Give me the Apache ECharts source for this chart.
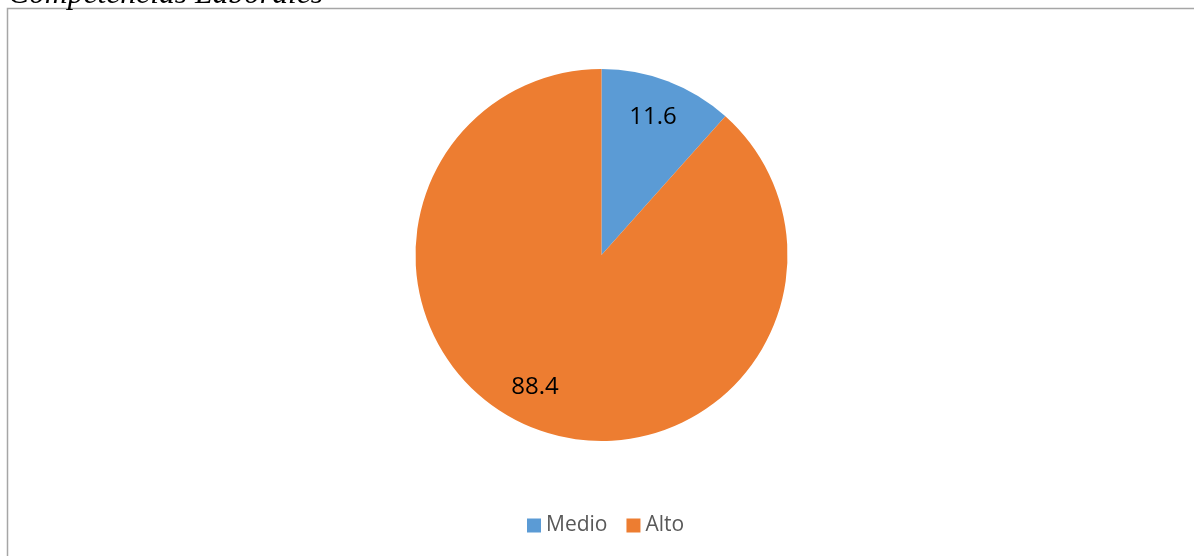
<!DOCTYPE html>
<html>
<head>
<meta charset="utf-8">
<script src="https://cdn.jsdelivr.net/npm/echarts@6/dist/echarts.min.js"></script>
<style>
html,body{margin:0;padding:0;background:#fff;}
#c{width:1194px;height:556px;}
</style>
</head>
<body>
<div id="c"></div>
<script>
const categories = ['Medio', 'Alto'];
const values = [11.6, 88.4];
const colors = ['#5B9BD5', '#ED7D31'];
const titleText = 'Competencias Laborales';

const chart = echarts.init(document.getElementById('c'));
const data = categories.map((n, i) => ({ name: n, value: values[i], itemStyle: { color: colors[i] } }));
const labelOffsets = [[-2, 2], [-13, -8]];
const R = 186;
chart.setOption({
  animation: false,
  graphic: [
    { type: 'rect', shape: { x: 7.5, y: 8.5, width: 1200, height: 560 }, style: { fill: 'none', stroke: '#a6a6a6', lineWidth: 1.5 }, z: 10 },
    { type: 'text', x: 8, y: 11, style: { text: titleText, font: 'italic 31.6px "Liberation Serif"', fill: '#000', verticalAlign: 'bottom', align: 'left' }, z: 11 }
  ],
  legend: {
    data: categories,
    left: 527, top: 515, padding: 0,
    itemWidth: 14, itemHeight: 14, itemGap: 19,
    icon: 'rect',
    textStyle: { fontFamily: 'Open Sans', fontSize: 21, color: '#595959' }
  },
  series: [
    {
      type: 'pie',
      center: [601.5, 255],
      radius: [0, R],
      startAngle: 90,
      clockwise: true,
      data: data,
      label: { show: false },
      labelLine: { show: false },
      itemStyle: { borderWidth: 0 },
      silent: true
    },
    {
      type: 'pie',
      center: [601.5, 255],
      radius: [R * 0.58, R],
      startAngle: 90,
      clockwise: true,
      data: data.map((d, i) => ({ name: d.name, value: d.value, label: { offset: labelOffsets[i] } })),
      itemStyle: { color: 'rgba(0,0,0,0)', borderWidth: 0 },
      label: { show: true, position: 'inside', formatter: p => p.value.toFixed(1), fontFamily: 'Open Sans', fontSize: 24, color: '#000' },
      labelLine: { show: false },
      silent: true,
      legendHoverLink: false
    }
  ]
});
</script>
</body>
</html>
